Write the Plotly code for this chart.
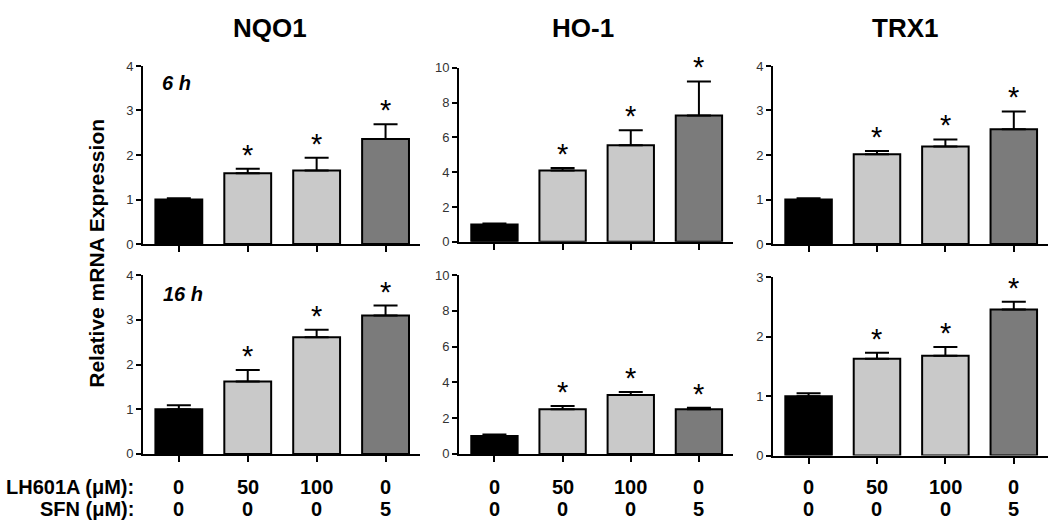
import plotly.graph_objects as go

# ---------------- data ----------------
genes = ["NQO1", "HO-1", "TRX1"]
times = ["6 h", "16 h"]
lh601a_labels = ["0", "50", "100", "0"]
sfn_labels = ["0", "0", "0", "5"]
bar_colors = ["#000000", "#c9c9c9", "#c9c9c9", "#7b7b7b"]

nqo1_6h_mean = [1.00, 1.59, 1.65, 2.36]
nqo1_6h_err = [0.03, 0.10, 0.29, 0.33]
ho1_6h_mean = [1.00, 4.10, 5.55, 7.26]
ho1_6h_err = [0.05, 0.15, 0.87, 1.96]
trx1_6h_mean = [1.00, 2.02, 2.19, 2.58]
trx1_6h_err = [0.03, 0.07, 0.16, 0.40]

nqo1_16h_mean = [1.00, 1.62, 2.61, 3.10]
nqo1_16h_err = [0.09, 0.26, 0.17, 0.22]
ho1_16h_mean = [1.00, 2.50, 3.30, 2.50]
ho1_16h_err = [0.09, 0.18, 0.17, 0.08]
trx1_16h_mean = [1.00, 1.63, 1.68, 2.46]
trx1_16h_err = [0.05, 0.10, 0.15, 0.13]

significant = [False, True, True, True]

y_max = [[4, 10, 4], [4, 10, 3]]
y_dtick = [[1, 2, 1], [1, 2, 1]]

panels = [
    [(nqo1_6h_mean, nqo1_6h_err), (ho1_6h_mean, ho1_6h_err), (trx1_6h_mean, trx1_6h_err)],
    [(nqo1_16h_mean, nqo1_16h_err), (ho1_16h_mean, ho1_16h_err), (trx1_16h_mean, trx1_16h_err)],
]

# ---------------- layout geometry (screen pixels) ----------------
W, H = 1050, 528


def px_x(s):
    return s / W


def px_y(s):
    return 1 - s / H


x_px = [(143, 420), (459, 733), (773, 1048)]
y_px = [[(60.7, 244), (62.7, 241.7), (60.7, 244)],
        [(276, 460), (276, 460), (278.3, 461.7)]]

FONT = "Arial, Liberation Sans, sans-serif"

fig = go.Figure()
cats = [0, 1, 2, 3]

for r in range(2):
    for c in range(3):
        idx = r * 3 + c + 1
        xa = "x" if idx == 1 else f"x{idx}"
        ya = "y" if idx == 1 else f"y{idx}"
        mean, err = panels[r][c]
        fig.add_trace(go.Bar(
            x=cats, y=mean, xaxis=xa, yaxis=ya,
            width=0.68,
            marker=dict(color=bar_colors, line=dict(color="black", width=2)),
            error_y=dict(type="data", symmetric=False, array=err,
                         arrayminus=[0] * len(err), color="black",
                         thickness=2, width=12),
            showlegend=False, hoverinfo="skip",
        ))
        for i, s in enumerate(significant):
            if s:
                fig.add_annotation(
                    x=cats[i], y=mean[i] + err[i], xref=xa, yref=ya,
                    text="*", showarrow=False, xanchor="center", yanchor="bottom",
                    yshift=-4,
                    font=dict(family=FONT, size=29, color="black"),
                )
        xl, xr = x_px[c]
        yt, yb = y_px[r][c]
        axkey = "xaxis" if idx == 1 else f"xaxis{idx}"
        aykey = "yaxis" if idx == 1 else f"yaxis{idx}"
        fig.layout[axkey] = dict(
            domain=[px_x(xl), px_x(xr)], anchor=ya, range=[-0.52, 3.5],
            showline=True, linecolor="black", linewidth=2,
            ticks="outside", ticklen=6, tickwidth=2, tickcolor="black",
            tickvals=cats, showticklabels=False,
            showgrid=False, zeroline=False, fixedrange=True,
        )
        fig.layout[aykey] = dict(
            domain=[px_y(yb), px_y(yt)], anchor=xa,
            range=[0, y_max[r][c]], dtick=y_dtick[r][c], tick0=0,
            showline=True, linecolor="black", linewidth=2,
            ticks="outside", ticklen=5, tickwidth=2, tickcolor="black",
            tickfont=dict(family=FONT, size=13, color="#333333"),
            showgrid=False, zeroline=False, fixedrange=True,
        )

# gene titles
title_x = [270, 583, 905]
for c, g in enumerate(genes):
    fig.add_annotation(x=px_x(title_x[c]), y=px_y(22), xref="paper", yref="paper",
                       text=f"<b>{g}</b>", showarrow=False,
                       xanchor="center", yanchor="middle",
                       font=dict(family=FONT, size=26, color="black"))

# time labels
time_pos = [(160, 78), (161, 295)]
for t, (px, py) in zip(times, time_pos):
    fig.add_annotation(x=px_x(px), y=px_y(py), xref="paper", yref="paper",
                       text=f"<b><i>{t}</i></b>", showarrow=False,
                       xanchor="left", yanchor="middle",
                       font=dict(family=FONT, size=20, color="black"))

# y axis title
fig.add_annotation(x=px_x(97), y=px_y(254), xref="paper", yref="paper",
                   text="<b>Relative mRNA Expression</b>", showarrow=False,
                   textangle=-90, xanchor="center", yanchor="middle",
                   font=dict(family=FONT, size=21, color="black"))

# treatment labels
row_y = [494, 517]
row_names = ["<b>LH601A (μM):</b>", "<b>SFN (μM):</b>"]
row_vals = [lh601a_labels, sfn_labels]
for ry, name in zip(row_y, row_names):
    fig.add_annotation(x=px_x(136), y=px_y(ry), xref="paper", yref="paper",
                       text=name, showarrow=False, xanchor="right", yanchor="middle",
                       font=dict(family=FONT, size=20, color="black"))
for c in range(3):
    xa = f"x{4 + c}"
    for ry, vals in zip(row_y, row_vals):
        for i in cats:
            fig.add_annotation(x=i, y=px_y(ry), xref=xa, yref="paper",
                               text=f"<b>{vals[i]}</b>", showarrow=False,
                               xanchor="center", yanchor="middle",
                               font=dict(family=FONT, size=20, color="black"))

fig.update_layout(
    width=W, height=H, margin=dict(l=0, r=0, t=0, b=0),
    paper_bgcolor="white", plot_bgcolor="white",
    bargap=0.3,
)

fig.write_html("out.html",
               config={"displayModeBar": False},
               post_script="document.body.style.margin='0';document.body.style.overflow='hidden';")
